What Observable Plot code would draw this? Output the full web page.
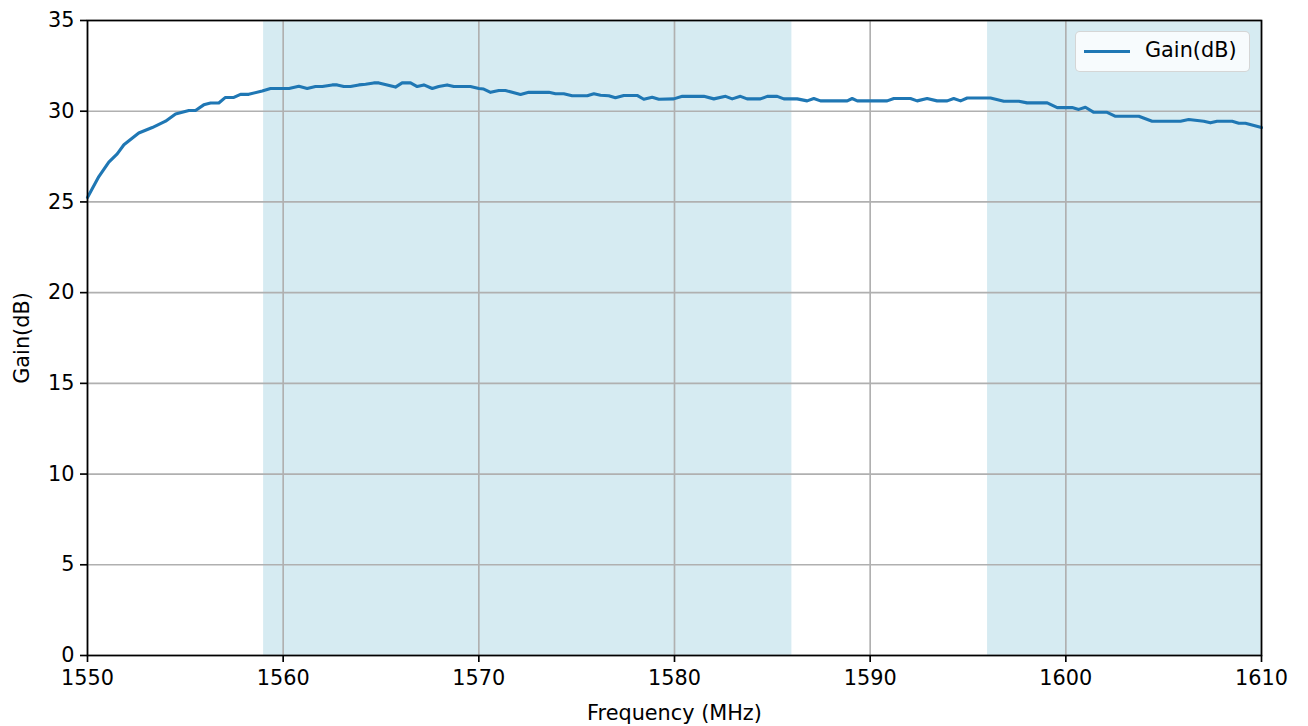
<!DOCTYPE html>
<html>
<head>
<meta charset="utf-8">
<script src="https://cdn.jsdelivr.net/npm/d3@7"></script>
<script src="https://cdn.jsdelivr.net/npm/@observablehq/plot@0.6"></script>
<style>
  html, body { margin: 0; padding: 0; background: #fff; }
  #wrap { position: relative; width: 1308px; height: 726px; font-family: "DejaVu Sans", sans-serif; }
  #legend { position: absolute; left: 1075px; top: 31px; width: 175px; height: 41px;
    border: 1.5px solid rgba(204,204,204,0.8); border-radius: 5px; background: rgba(255,255,255,0.8);
    box-sizing: border-box; }
  #legend .sw { position: absolute; left: 8px; top: 18px; width: 46px; height: 3px; background: #1f77b4; }
  #legend .tx { position: absolute; left: 69px; top: 6px; font-size: 20.8px; line-height: 24px; color: #000; }
</style>
</head>
<body>
<div id="wrap">
  <div id="chart"></div>
  <div id="legend"><div class="sw"></div><div class="tx">Gain(dB)</div></div>
</div>
<script>
const freq = [1550.0,1550.58,1551.09,1551.52,1551.86,1552.62,1553.31,1553.99,1554.5,1555.18,1555.52,1555.94,1556.29,1556.71,1557.05,1557.48,1557.82,1558.24,1558.93,1559.35,1560.3,1560.8,1561.23,1561.65,1562.0,1562.51,1562.76,1563.1,1563.44,1563.87,1564.21,1564.63,1564.89,1565.32,1565.74,1566.08,1566.51,1566.85,1567.19,1567.62,1567.95,1568.38,1568.72,1569.57,1570.0,1570.25,1570.6,1571.02,1571.36,1572.13,1572.55,1573.58,1573.92,1574.34,1574.77,1575.54,1575.88,1576.22,1576.64,1576.98,1577.41,1578.09,1578.43,1578.86,1579.2,1579.96,1580.4,1581.5,1582.01,1582.61,1582.95,1583.37,1583.71,1584.39,1584.74,1585.25,1585.59,1586.27,1586.78,1587.12,1587.46,1588.83,1589.08,1589.34,1590.87,1591.21,1592.06,1592.4,1592.91,1593.42,1593.94,1594.27,1594.62,1594.96,1596.15,1596.83,1597.6,1598.02,1599.05,1599.56,1600.32,1600.66,1601.0,1601.43,1602.11,1602.54,1603.73,1604.41,1605.86,1606.28,1607.05,1607.39,1607.73,1608.5,1608.84,1609.18,1610.0];
const gain = [25.25,26.4,27.2,27.65,28.15,28.8,29.1,29.45,29.85,30.04,30.04,30.35,30.45,30.45,30.76,30.76,30.93,30.93,31.12,31.25,31.25,31.37,31.25,31.36,31.36,31.45,31.45,31.36,31.36,31.45,31.49,31.56,31.56,31.45,31.33,31.56,31.56,31.36,31.45,31.25,31.36,31.45,31.36,31.36,31.25,31.22,31.04,31.14,31.14,30.92,31.04,31.04,30.96,30.96,30.85,30.85,30.96,30.88,30.85,30.74,30.87,30.87,30.66,30.77,30.66,30.68,30.82,30.82,30.68,30.82,30.68,30.82,30.68,30.68,30.82,30.82,30.68,30.68,30.57,30.7,30.57,30.57,30.7,30.57,30.57,30.7,30.7,30.57,30.7,30.57,30.57,30.7,30.57,30.73,30.73,30.55,30.55,30.46,30.46,30.2,30.2,30.1,30.22,29.94,29.94,29.72,29.72,29.45,29.45,29.54,29.45,29.36,29.45,29.45,29.34,29.34,29.1];
const bandStart = [1559, 1596];
const bandEnd = [1586, 1610];
const xTicks = [1550, 1560, 1570, 1580, 1590, 1600, 1610];
const yTicks = [0, 5, 10, 15, 20, 25, 30, 35];

const data = freq.map((f, i) => ({f, g: gain[i]}));
const bands = bandStart.map((s, i) => ({x1: s, x2: bandEnd[i]}));

const chart = Plot.plot({
  width: 1308,
  height: 726,
  marginTop: 20,
  marginRight: 47,
  marginBottom: 71,
  marginLeft: 87,
  style: {fontFamily: "DejaVu Sans, sans-serif", background: "white", color: "black"},
  x: {domain: [1550, 1610]},
  y: {domain: [0, 35]},
  marks: [
    Plot.rect(bands, {x1: "x1", x2: "x2", y1: 0, y2: 35, fill: "#add8e6", fillOpacity: 0.5}),
    Plot.gridX(xTicks, {stroke: "#b0b0b0", strokeOpacity: 1, strokeWidth: 1.67}),
    Plot.gridY(yTicks, {stroke: "#b0b0b0", strokeOpacity: 1, strokeWidth: 1.67}),
    Plot.line(data, {x: "f", y: "g", stroke: "#1f77b4", strokeWidth: 3.1}),
    Plot.frame({stroke: "black", strokeWidth: 1.67}),
    Plot.axisX({ticks: xTicks, tickSize: 7, tickPadding: 8, fontSize: 20.8, strokeWidth: 1.67,
      label: "Frequency (MHz)", labelAnchor: "center", labelOffset: 64, labelArrow: "none", tickFormat: d => String(d)}),
    Plot.axisY({ticks: yTicks, tickSize: 7, tickPadding: 6, fontSize: 20.8, strokeWidth: 1.67,
      label: "Gain(dB)", labelAnchor: "center", labelOffset: 73, labelArrow: "none", tickFormat: d => String(d)})
  ]
});
document.getElementById("chart").appendChild(chart);
</script>
</body>
</html>
